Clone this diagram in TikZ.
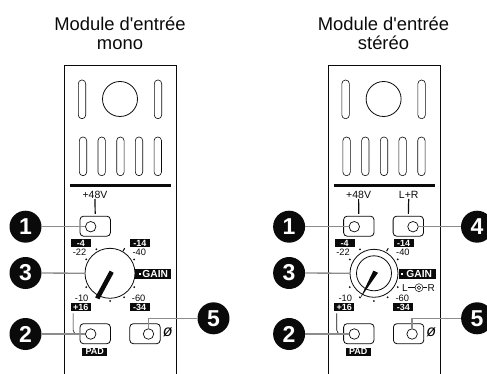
\documentclass[tikz,border=0pt]{standalone}
\usepackage{fontspec}
\setmainfont{Liberation Sans}
\newfontfamily\plainfont{Liberation Sans}
\usetikzlibrary{calc,positioning}
\definecolor{Ink}{HTML}{0A0A0A}
\definecolor{Leader}{HTML}{8C8C8C}
\newcommand{\pxfont}[1]{\fontsize{#1}{#1}\selectfont}
\tikzset{
  title/.style={align=center, inner sep=0pt, text=Ink, font=\plainfont\fontsize{18.4}{18.4}\selectfont},
  badge/.style={circle, fill=Ink, text=white, minimum size=32pt, inner sep=0pt, font=\pxfont{23}\bfseries},
  button/.style={rounded corners=3.5pt, draw=Ink, line width=0.8pt, minimum width=30.4pt, minimum height=20pt, inner sep=0pt},
  hole/.style={circle, draw=Ink, line width=0.7pt, minimum size=10.5pt, inner sep=0pt},
  tag/.style={fill=Ink, text=white, inner sep=0pt, minimum width=20pt, minimum height=8pt, font=\pxfont{9}\bfseries},
  scaletext/.style={inner sep=0pt, text=Ink, font=\pxfont{9.3}},
  toptext/.style={inner sep=0pt, text=Ink, font=\pxfont{10.5}},
  slot/.style={rounded corners=3.6pt, draw=Ink, line width=0.6pt},
  knob/.style={circle, draw=Ink, line width=0.8pt, inner sep=0pt},
  leader/.style={draw=Leader, line width=1.3pt},
  feed/.style={draw=Ink, line width=1.2pt, shorten >=2pt},
  pad/.style={draw=Ink, line width=0.6pt, rounded corners=4pt}
}
\begin{document}
\begin{tikzpicture}[x=1pt,y=-1pt]
  \useasboundingbox (0,0) rectangle (487,374);
  \clip (0,0) rectangle (487,374);
  % parts shared by both modules
  \foreach \m/\dx in {m/0,s/263.6}{
    \begin{scope}[xshift=\dx pt]
      \draw[draw=Ink,line width=0.7pt] (64.7,374) -- (64.7,65.7) -- (176.3,65.7) -- (176.3,374);
      \draw[slot] (78.3,80) rectangle (85.7,118.7);
      \draw[slot] (154.3,80) rectangle (161.7,118.7);
      \node[knob,minimum size=35pt] (\m meter) at (120,99) {};
      \foreach \i/\x in {a/83,b/101.7,c/120.4,d/139,e/157.8}
        \draw[slot] (\x-3.7,137) rectangle (\x+3.7,175.7);
      \fill[Ink] (70,184.4) rectangle (171,187);
      % buttons
      \node[button] (\m btnA) at (95.2,226.2) {};
      \node[hole] (\m holeA) at (90.7,226.7) {};
      \node[button] (\m btnB) at (95.2,333.7) {};
      \node[hole] (\m holeB) at (90.7,334) {};
      \node[button] (\m btnE) at (145,333.7) {};
      \node[hole] (\m holeE) at (148.5,334) {};
      % labels
      \node[toptext] (\m phantom) at (95,195) {+48V};
      \node[tag] (\m tagA) at (81,243) {-4};
      \node[tag] (\m tagB) at (140,243) {-14};
      \node[tag] (\m tagC) at (80.7,307.2) {+16};
      \node[tag] (\m tagD) at (139.7,307.2) {-34};
      \node[tag,minimum width=25pt] (\m pad) at (94.7,351.7) {PAD};
      \node[scaletext] (\m valA) at (79.5,252.7) {-22};
      \node[scaletext] (\m valB) at (139.3,252.7) {-40};
      \node[scaletext] (\m valC) at (81.7,298) {-10};
      \node[scaletext] (\m valD) at (138.7,298) {-60};
      \node[inner sep=0pt,font=\pxfont{16}\itshape] (\m phase) at (167.7,332.7) {ø};
      \node[badge] (\m numA) at (25.5,226.7) {1};
      \node[badge] (\m numB) at (25.5,334) {2};
      \node[badge] (\m numC) at (25.5,273) {3};
      \node[badge] (\m numE) at (213.5,318.3) {5};
      % scale dots
      \foreach \a in {150,120,90,60,30,-30,-120,-150}
        \fill[Ink] ($(110.2,273.3)+(\a:27.7)$) circle (1pt);
      \draw[Ink,line width=1pt] ($(110.2,273.3)+(-60:25.5)$) -- ($(110.2,273.3)+(-60:29)$);
      % connectors
      \draw[feed] (\m phantom.south) -- (\m btnA.north);
      \draw[pad] ($(\m tagC.south west)+(2.6,2)$) |- (\m holeB);
      \draw[leader] (\m numA) -- (\m holeA);
      \draw[leader] (\m numB) -- (\m holeB);
      \draw[leader] (\m holeE.north) |- (\m numE);
    \end{scope}
  }
  \node[title] (monotitle) at (120,33.5) {Module d'entrée\\mono};
  \node[title] (sterotitle) at (383.5,33.5) {Module d'entrée\\stéréo};
  % mono module
  \fill[Ink] (135,269.3) rectangle (170.7,278.7);
  \fill[white] (138.5,273) rectangle (140.5,275);
  \node[inner sep=0pt,text=white,font=\pxfont{10.2}\bfseries] (mgain) at (155.2,274) {GAIN};
  \node[knob,minimum size=50pt] (mgainknob) at (110,273.3) {};
  \draw[leader] (mnumC) -- (mgainknob);
  \draw[Ink,line width=4.6pt] (111.7,271.7) -- (97.3,298.3);
  % stereo module
  \fill[Ink] (399,269.3) rectangle (435.7,278.7);
  \fill[white] (400.9,273) rectangle (402.9,275);
  \node[inner sep=0pt,text=white,font=\pxfont{10.2}\bfseries] (sgain) at (419.2,274) {GAIN};
  \node[knob,minimum size=48pt] (sgainknob) at (374,273.3) {};
  \node[knob,minimum size=35pt] (sgaininner) at (374,273.3) {};
  \draw[leader] (snumC) -- (sgainknob);
  \fill[Ink] (373.4,270.6) -- (378,272.8) -- (360,298.6) -- cycle;
  \node[toptext] (lrtext) at (408.7,195) {L+R};
  \node[button] (sbtnD) at (408.3,226.2) {};
  \node[hole] (sholeD) at (413,226.7) {};
  \node[badge] (snumD) at (477,226.7) {4};
  \draw[feed] (lrtext.south) -- (sbtnD.north);
  \draw[leader] (snumD) -- (sholeD);
  \node[scaletext,font=\pxfont{10}] (panL) at (405,287.7) {L};
  \node[circle,draw=Ink,line width=0.5pt,minimum size=8pt,inner sep=0pt] (panring) at (419,287.7) {};
  \node[circle,draw=Ink,line width=0.5pt,minimum size=3.5pt,inner sep=0pt] at (419,287.7) {};
  \node[scaletext,font=\pxfont{10}] (panR) at (431.3,287.7) {R};
  \draw[Ink,line width=0.5pt] (panL) -- (panring);
  \draw[Ink,line width=0.5pt] (panring) -- (panR);
\end{tikzpicture}
\end{document}
